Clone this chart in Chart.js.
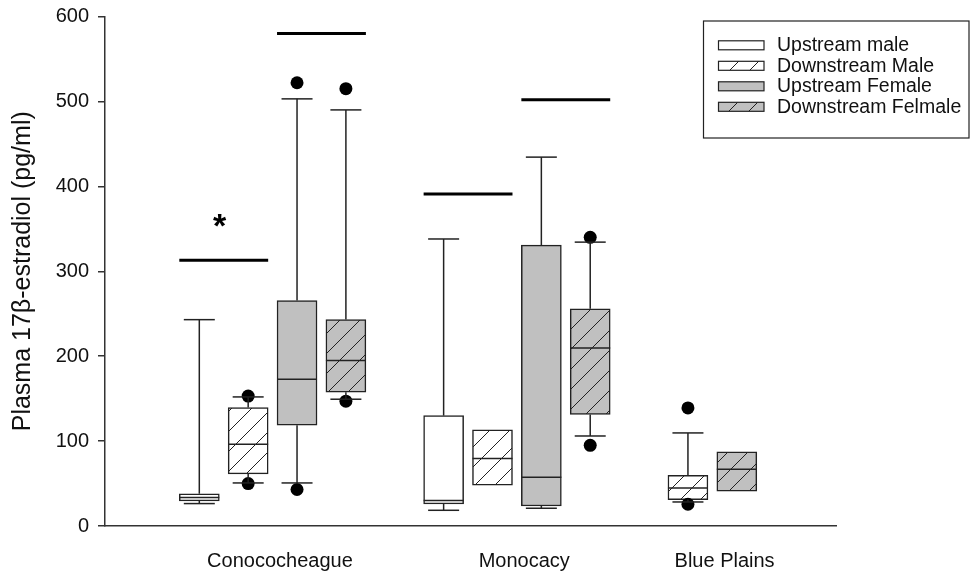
<!DOCTYPE html>
<html>
<head>
<meta charset="utf-8">
<script src="https://cdn.jsdelivr.net/npm/chart.js@4.4.1/dist/chart.umd.min.js"></script>
<style>
html, body { margin: 0; padding: 0; background: #ffffff; }
#wrap { width: 979px; height: 579px; }
</style>
</head>
<body>
<div id="wrap"><canvas id="c" width="979" height="579"></canvas></div>
<script>
// ---------- DATA ----------
const categories = ['Conococheague', 'Monocacy', 'Blue Plains'];
const seriesNames = ['Upstream male', 'Downstream Male', 'Upstream Female', 'Downstream Felmale'];
// per category: [lower whisker, Q1, median, Q3, upper whisker]  (null = not sampled)
const upstreamMale     = [[26.4, 29.5, 33.5, 38.0, 243], [18.5, 26.0, 29.9, 130.0, 338], null];
const downstreamMale   = [[50.7, 61.3, 96.3, 139.5, 152], [null, 48.0, 79.4, 113.2, null], [28.3, 31.1, 44.8, 59.7, 109.6]];
const upstreamFemale   = [[50.7, 118.7, 172.9, 265.6, 503], [20.9, 23.6, 57.4, 330.7, 434.4], null];
const downstreamFemale = [[149.3, 157.5, 194.9, 243.2, 490], [106.0, 131.3, 209.7, 255.7, 334.3], [null, 40.9, 66.8, 87.2, null]];
// outliers per category
const upstreamMaleOutliers     = [[], [], []];
const downstreamMaleOutliers   = [[153, 50], [], [139, 25.6]];
const upstreamFemaleOutliers   = [[522, 43], [], []];
const downstreamFemaleOutliers = [[515, 147], [340, 95], []];
// significance bars
const sigCategory = [0, 0, 1, 1];
const sigFromSeries = [0, 2, 0, 2];
const sigToSeries = [1, 3, 1, 3];
const sigValue = [313, 580, 391, 502];
const sigMark = ['*', '', '', ''];
const yTicks = [0, 100, 200, 300, 400, 500, 600];

// ---------- LAYOUT / STYLE ----------
const FONT = '"Liberation Sans", Arial, Helvetica, sans-serif';
const INK = '#222222';
const GREY = '#c0c0c0';
const GROUP_STEP = 5;      // slots between category groups
const BOX_W = 40;          // px
const CAP_W = 31;          // px

const allBoxes = [upstreamMale, downstreamMale, upstreamFemale, downstreamFemale];
const allOutliers = [upstreamMaleOutliers, downstreamMaleOutliers, upstreamFemaleOutliers, downstreamFemaleOutliers];

function slotOf(cat, s) {
  let k = 0;
  for (let j = 0; j < s; j++) if (allBoxes[j][cat]) k++;
  return cat * GROUP_STEP + k;
}
const labelPos = categories.map((c, i) => {
  const n = allBoxes.filter(b => b[i]).length;
  return i * GROUP_STEP + (n - 1) / 2 + 0.15 + (n < 4 ? 0.1 : 0);
});

function hatch(bg) {
  const c = document.createElement('canvas');
  c.width = 20; c.height = 20;
  const g = c.getContext('2d');
  g.fillStyle = bg; g.fillRect(0, 0, 20, 20);
  g.strokeStyle = INK; g.lineWidth = 1;
  g.beginPath(); g.moveTo(-2, 22); g.lineTo(22, -2); g.stroke();
  g.beginPath(); g.moveTo(-2, 2); g.lineTo(2, -2); g.stroke();
  g.beginPath(); g.moveTo(18, 22); g.lineTo(22, 18); g.stroke();
  return g.createPattern(c, 'repeat');
}
const fills = ['#ffffff', hatch('#ffffff'), GREY, hatch(GREY)];

const boxDatasets = allBoxes.map((boxes, s) => ({
  type: 'bar',
  label: seriesNames[s],
  data: boxes.map((b, c) => b ? { x: slotOf(c, s), y: [b[1], b[3]] } : null).filter(Boolean),
  backgroundColor: fills[s],
  borderColor: INK,
  borderWidth: 1.5,
  borderSkipped: false,
  grouped: false,
  barThickness: BOX_W,
  order: 2
}));

const outlierData = [];
allOutliers.forEach((perCat, s) => perCat.forEach((vals, c) => {
  vals.forEach(v => outlierData.push({ x: slotOf(c, s), y: v }));
}));

const outlierDataset = {
  type: 'scatter',
  label: 'outliers',
  data: outlierData,
  pointRadius: 6.5,
  pointBackgroundColor: '#000',
  pointBorderWidth: 0,
  order: 1
};

const boxDetails = {
  id: 'boxDetails',
  afterDatasetsDraw(chart) {
    const { ctx, scales: { x, y } } = chart;
    const line = (x1, y1, x2, y2) => { ctx.beginPath(); ctx.moveTo(x1, y1); ctx.lineTo(x2, y2); ctx.stroke(); };
    ctx.save();
    ctx.strokeStyle = INK;
    ctx.lineWidth = 1.5;
    allBoxes.forEach((boxes, s) => boxes.forEach((b, c) => {
      if (!b) return;
      const px = x.getPixelForValue(slotOf(c, s));
      const yMed = y.getPixelForValue(b[2]);
      line(px - BOX_W / 2, yMed, px + BOX_W / 2, yMed);
      if (b[4] != null) {
        const yt = y.getPixelForValue(b[4]);
        line(px, y.getPixelForValue(b[3]), px, yt);
        line(px - CAP_W / 2, yt, px + CAP_W / 2, yt);
      }
      if (b[0] != null) {
        const yb = y.getPixelForValue(b[0]);
        line(px, y.getPixelForValue(b[1]), px, yb);
        line(px - CAP_W / 2, yb, px + CAP_W / 2, yb);
      }
    }));
    // significance bars
    ctx.strokeStyle = '#000';
    ctx.lineWidth = 3;
    sigValue.forEach((v, i) => {
      const c = sigCategory[i];
      const x1 = x.getPixelForValue(slotOf(c, sigFromSeries[i])) - BOX_W / 2;
      const x2 = x.getPixelForValue(slotOf(c, sigToSeries[i])) + BOX_W / 2;
      const py = y.getPixelForValue(v);
      line(x1, py, x2, py);
      if (sigMark[i]) {
        ctx.fillStyle = '#000';
        ctx.font = 'bold 34px ' + FONT;
        ctx.textAlign = 'center';
        ctx.textBaseline = 'alphabetic';
        ctx.fillText(sigMark[i], (x1 + x2) / 2 - 4, py - 23);
      }
    });
    ctx.restore();
  }
};

const boxLegend = {
  id: 'boxLegend',
  afterDraw(chart) {
    const ctx = chart.ctx;
    ctx.save();
    ctx.strokeStyle = INK;
    ctx.lineWidth = 1.2;
    ctx.strokeRect(703.5, 21, 265.5, 117);
    chart.data.datasets.filter(d => d.type === 'bar').forEach((d, i) => {
      const cy = 45.3 + i * 20.5;
      ctx.fillStyle = d.backgroundColor;
      ctx.fillRect(718.5, cy - 4.5, 45.5, 9);
      ctx.lineWidth = 1.2;
      ctx.strokeRect(718.5, cy - 4.5, 45.5, 9);
      ctx.fillStyle = '#111';
      ctx.font = '19.5px ' + FONT;
      ctx.textAlign = 'left';
      ctx.textBaseline = 'middle';
      ctx.fillText(d.label, 777, cy + 0.5);
    });
    ctx.restore();
  }
};

new Chart(document.getElementById('c'), {
  type: 'bar',
  data: { datasets: [...boxDatasets, outlierDataset] },
  options: {
    responsive: false,
    animation: false,
    events: [],
    layout: { padding: { left: 0, top: 16.5, right: 143, bottom: 0 } },
    plugins: { legend: { display: false }, tooltip: { enabled: false }, title: { display: false } },
    scales: {
      x: {
        type: 'linear',
        min: -1.93,
        max: 13.03,
        offset: false,
        afterBuildTicks: s => { s.ticks = labelPos.map(v => ({ value: v })); },
        ticks: {
          callback: (v, i) => categories[i],
          autoSkip: false,
          maxRotation: 0,
          color: '#111',
          font: { family: FONT, size: 20 },
          padding: 23
        },
        grid: { display: false, drawTicks: false, offset: false },
        border: { display: true, color: '#333', width: 1.5 },
        afterFit: s => { s.height = 53; s.paddingLeft = 0; s.paddingRight = 0; }
      },
      y: {
        type: 'linear',
        min: 0,
        max: 600,
        afterBuildTicks: s => { s.ticks = yTicks.map(v => ({ value: v })); },
        ticks: { color: '#111', font: { family: FONT, size: 20 }, padding: 9 },
        grid: { drawOnChartArea: false, drawTicks: true, tickLength: 7, color: '#333', lineWidth: 1.5 },
        border: { display: true, color: '#333', width: 1.5 },
        title: {
          display: true,
          text: 'Plasma 17β-estradiol (pg/ml)',
          color: '#111',
          font: { family: FONT, size: 25 },
          padding: { top: 8, bottom: 0 }
        },
        afterFit: s => { s.width = 105; s.paddingTop = 0; s.paddingBottom = 0; }
      }
    }
  },
  plugins: [boxDetails, boxLegend]
});
</script>
</body>
</html>
